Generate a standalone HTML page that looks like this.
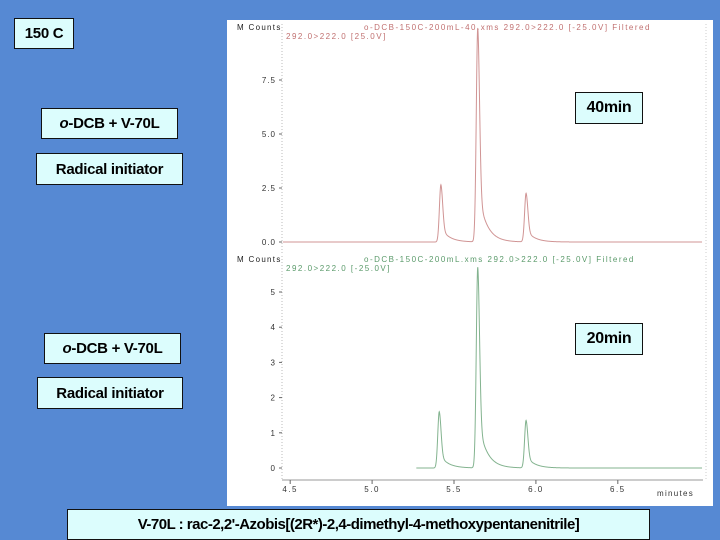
<!DOCTYPE html>
<html><head><meta charset="utf-8"><style>
body{margin:0;width:720px;height:540px;background:#5689d3;position:relative;overflow:hidden;font-family:"Liberation Sans",sans-serif}
.box{position:absolute;background:#dcfdfd;border:1px solid #111;box-sizing:border-box;color:#000;font-size:15px;font-weight:bold;letter-spacing:-0.3px;display:flex;align-items:center;justify-content:center;white-space:nowrap}
#panel{position:absolute;left:227px;top:20px;width:486px;height:486px;background:#fff}
svg text{font-family:"Liberation Sans",sans-serif}
</style></head><body>
<div id="panel"></div>
<svg id="chart" width="720" height="540" style="position:absolute;left:0;top:0"></svg>
<div class="box" style="left:14px;top:18px;width:60px;height:31px">150 C</div>
<div class="box" style="left:41px;top:108px;width:137px;height:31px"><i>o</i>-DCB + V-70L</div>
<div class="box" style="left:36px;top:153px;width:147px;height:32px">Radical initiator</div>
<div class="box" style="left:575px;top:92px;width:68px;height:32px;font-size:16px">40min</div>
<div class="box" style="left:44px;top:333px;width:137px;height:31px"><i>o</i>-DCB + V-70L</div>
<div class="box" style="left:37px;top:377px;width:146px;height:32px">Radical initiator</div>
<div class="box" style="left:575px;top:323px;width:68px;height:32px;font-size:16px">20min</div>
<div class="box" style="left:67px;top:509px;width:583px;height:31px;font-size:15px;letter-spacing:-0.5px">V-70L : rac-2,2'-Azobis[(2R*)-2,4-dimethyl-4-methoxypentanenitrile]</div>
<script>
// peaks: retention times (min), heights (MCounts)
const topTimes=[5.42,5.645,5.94];
const topHeights=[2.65,9.9,2.25];
const botTimes=[5.41,5.645,5.94];
const botHeights=[1.6,5.7,1.35];
const topTicks=[0,2.5,5,7.5];
const botTicks=[0,1,2,3,4,5];
const xTicks=[4.5,5.0,5.5,6.0,6.5];
const botStart=5.27;

const svg=document.getElementById('chart');
const NS='http://www.w3.org/2000/svg';
function el(t,a,p){const e=document.createElementNS(NS,t);for(const k in a)e.setAttribute(k,a[k]);(p||svg).appendChild(e);return e;}
const xL=282,xR=703,tMin=4.45,tMax=7.02;
const X=t=>xL+(t-tMin)/(tMax-tMin)*(xR-xL);
const Ytop=v=>242-v*21.6;
const Ybot=v=>468-v*35.2;

function signal(t,times,heights){
  let s=0;
  for(let i=0;i<times.length;i++){
    const d=t-times[i];
    if(d<0) s+=heights[i]*Math.exp(-(d*d)/(2*0.009*0.009));
    else s+=heights[i]*(0.75*Math.exp(-(d*d)/(2*0.011*0.011))+0.25*Math.exp(-d/0.05));
  }
  return s;
}
function drawPanel(Y,ticks,times,heights,color,title,start,yTop,fmt,nm){
  const ax=el('line',{x1:xL,y1:yTop,x2:xL,y2:Y(0)+12,stroke:'#bbb','stroke-dasharray':'1,2'});
  
  el('line',{x1:xR+3,y1:yTop,x2:xR+3,y2:Y(0)+12,stroke:'#ccc','stroke-dasharray':'1,2'});
  ticks.forEach(v=>{
    const t=el('text',{x:xL-6,y:Y(v)+3,'font-size':8,'text-anchor':'end',fill:'#333','letter-spacing':'1'});
    t.textContent=fmt(v);
    
    el('line',{x1:xL-3,y1:Y(v),x2:xL,y2:Y(v),stroke:'#666'});
  });
  const h=el('text',{x:237,y:yTop+6,'font-size':8,fill:'#222','letter-spacing':'1.3'});h.textContent='M Counts';
  
  const l1=el('text',{x:364,y:yTop+6,'font-size':8,fill:color,'letter-spacing':'1.5'});l1.textContent=title;
  
  const l2=el('text',{x:286,y:yTop+15,'font-size':8,fill:color,'letter-spacing':'1.5'});l2.textContent=nm==='top'?'292.0>222.0 [25.0V]':'292.0>222.0 [-25.0V]';
  
  let d='';
  for(let t=start;t<=tMax-0.005;t+=0.001){
    const y=Math.max(yTop,Y(signal(t,times,heights)));
    d+=(d?'L':'M')+X(t).toFixed(2)+','+y.toFixed(2);
  }
  const p=el('path',{d,fill:'none',stroke:color,'stroke-width':1,opacity:0.75});
  
}
drawPanel(Ytop,topTicks,topTimes,topHeights,'#c07070','o-DCB-150C-200mL-40.xms 292.0>222.0 [-25.0V] Filtered',tMin+0.005,24,v=>v.toFixed(1),'top');
drawPanel(Ybot,botTicks,botTimes,botHeights,'#5a9a6a','o-DCB-150C-200mL.xms 292.0>222.0 [-25.0V] Filtered',botStart,256,v=>String(v),'bottom');
const xa=el('line',{x1:xL,y1:480,x2:xR,y2:480,stroke:'#999'});

xTicks.forEach(v=>{
  el('line',{x1:X(v),y1:480,x2:X(v),y2:484,stroke:'#666'});
  const t=el('text',{x:X(v),y:492,'font-size':8,'text-anchor':'middle',fill:'#333','letter-spacing':'1.5'});t.textContent=v.toFixed(1);
  
});
const xt=el('text',{x:657,y:496,'font-size':8,fill:'#333','letter-spacing':'1.3'});xt.textContent='minutes';

</script>
</body></html>
